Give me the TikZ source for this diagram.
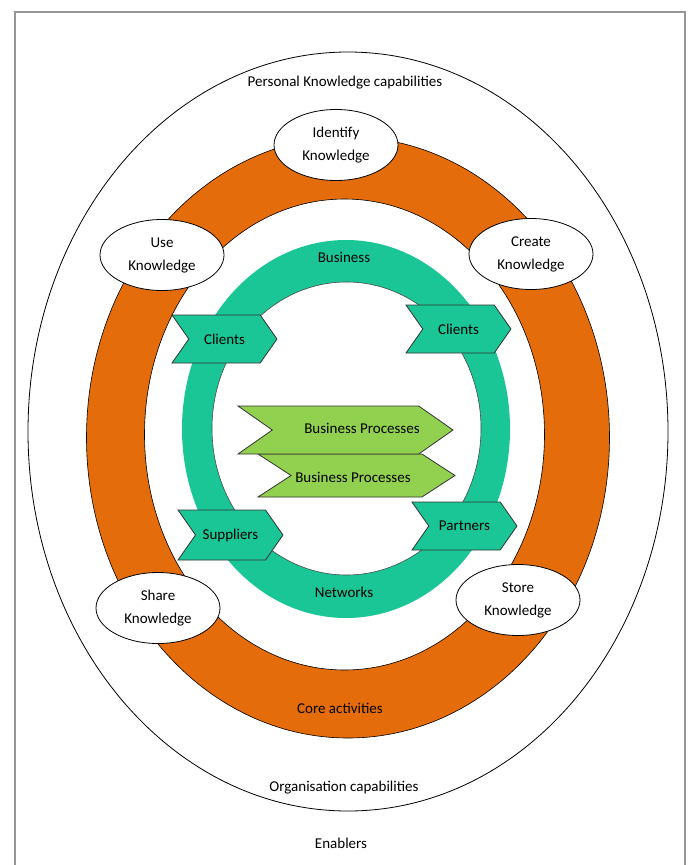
\documentclass[tikz,border=0pt]{standalone}
\usepackage{fontspec}
\setmainfont{Carlito}
\usepackage{xcolor}
\usetikzlibrary{shapes.geometric,shapes.symbols}
\definecolor{coreorange}{RGB}{228,108,10}
\definecolor{netteal}{RGB}{26,198,150}
\definecolor{procgreen}{RGB}{146,208,80}
\definecolor{framegray}{RGB}{150,150,150}

\begin{document}
\begin{tikzpicture}[x=1pt,y=-1pt,
	every node/.style={font=\fontsize{15}{23}\selectfont, text=black, align=center},
	know/.style={draw, line width=0.8pt, fill=white, ellipse, minimum width=124pt, minimum height=71pt, inner sep=0pt},
	chev/.style={draw=black!80, line width=0.8pt, fill=netteal, signal, signal to=east, signal from=west,
		signal pointer angle=110, minimum height=48pt, minimum width=105pt, inner sep=0pt},
	bproc/.style={chev, fill=procgreen, signal pointer angle=70}]
	\useasboundingbox (0,0) rectangle (689,865);
	\draw[framegray, line width=1.5pt] (15,870) -- (15,12) -- (685,12) -- (685,870);
	
	\draw[line width=0.8pt] (348,431.5) ellipse [x radius=320pt, y radius=379.5pt];
	\draw[fill=coreorange, even odd rule, line width=0.6pt] (348,437.5) ellipse [x radius=261.5pt, y radius=300.5pt]
		(344.5,434.5) ellipse [x radius=200pt, y radius=235.5pt];
	\fill[netteal, even odd rule] (346,429) ellipse [x radius=164pt, y radius=189pt]
		(346.5,428.5) ellipse [x radius=134.5pt, y radius=146.5pt];
	\draw[black!70, line width=0.6pt] (346.5,428.5) ellipse [x radius=134.5pt, y radius=146.5pt];
	
	\node (personal) at (345,83) {Personal Knowledge capabilities};
	\node (business) at (344,257) {Business};
	\node (networks) at (344,592) {Networks};
	\node (core) at (340,708) {Core activities};
	\node (orgcap) at (344,788) {Organisation capabilities};
	\node (enablers) at (341,843) {Enablers};
	
	\node[chev] (clientsL) at (224.5,339) {Clients};
	\node[chev] (clientsR) at (458.5,329) {Clients};
	\node[chev, minimum height=50pt] (suppliers) at (230.5,535) {Suppliers};
	\node[chev] (partners) at (464.5,526) {Partners};
	
	\node[bproc, minimum width=197pt, minimum height=43pt, signal pointer angle=66] (procB) at (356.5,475.5) {};
	\node[bproc, minimum width=215pt] (procA) at (345.5,430) {};
	\node (procAtext) at (362,428) {Business Processes};
	\node (procBtext) at (353,477) {Business Processes};
	
	\foreach \n/\p/\t in {identify/{(336,145)}/Identify, use/{(162,255)}/Use, create/{(531,254)}/Create,
		share/{(158,608)}/Share, store/{(518,600)}/Store}
		\node[know] (\n) at \p {\t\\Knowledge};
\end{tikzpicture}
\end{document}
